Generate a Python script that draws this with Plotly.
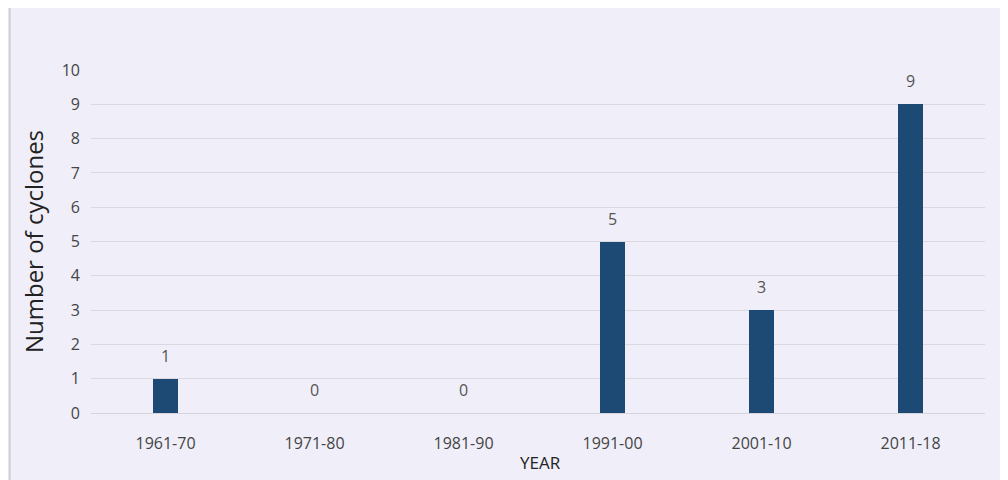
import plotly.graph_objects as go

categories = ["1961-70", "1971-80", "1981-90", "1991-00", "2001-10", "2011-18"]
cyclones = [1, 0, 0, 5, 3, 9]
y_ticks = list(range(0, 11))

fig = go.Figure()
fig.add_trace(go.Bar(
    x=categories, y=cyclones,
    width=0.17,
    marker=dict(color="#1c4a75", line=dict(width=0)),
))
for c, v in zip(categories, cyclones):
    fig.add_annotation(
        x=c, y=v, text=str(v), showarrow=False, yanchor="bottom", yshift=10,
        font=dict(family="Open Sans", size=16, color="#555555"),
    )

fig.update_layout(
    width=1008, height=480,
    margin=dict(l=83, r=31, t=62, b=75, autoexpand=False),
    paper_bgcolor="#f0eff9",
    plot_bgcolor="#f0eff9",
    showlegend=False,
    bargap=0,
    font=dict(family="Open Sans", color="#444444"),
)
fig.update_xaxes(
    type="category", automargin=False,
    showgrid=False, showline=True, linecolor="#d4d4dc", linewidth=1,
    tickfont=dict(size=16, color="#444444"), ticks="", ticklabelstandoff=16,
)
fig.update_yaxes(
    range=[0, 10], tickvals=y_ticks, showgrid=True, gridcolor="#d9d9df", gridwidth=1,
    automargin=False,
    zeroline=False, showline=False, ticks="", ticklabelstandoff=10,
    tickfont=dict(size=16, color="#444444"),
    title=dict(text="Number of cyclones", font=dict(size=24, color="#222222"), standoff=11),
)
fig.add_annotation(
    text="YEAR", xref="paper", yref="paper", x=0.503, y=-0.105,
    xanchor="center", yanchor="top", showarrow=False,
    font=dict(size=17, color="#222222", family="Open Sans"),
)
fig.add_shape(type="line", xref="paper", yref="paper", x0=-0.091, x1=-0.091, y0=-0.2, y1=1.2,
              line=dict(color="#cfcfd6", width=2))
fig.write_html("out.html")
